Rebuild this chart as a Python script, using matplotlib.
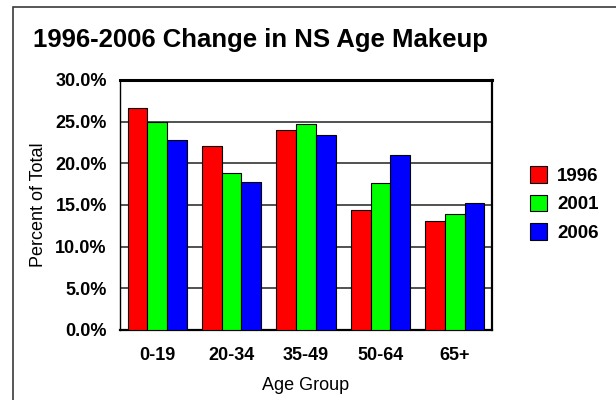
import numpy as np
import matplotlib
matplotlib.use('Agg')
import matplotlib.pyplot as plt
from matplotlib.patches import Rectangle
from matplotlib.ticker import FuncFormatter

# Data (percent of total population)
age_groups = ['0-19', '20-34', '35-49', '50-64', '65+']
years = ['1996', '2001', '2006']
pct_1996 = [26.6, 22.1, 24.0, 14.4, 13.1]
pct_2001 = [25.0, 18.9, 24.7, 17.6, 13.9]
pct_2006 = [22.8, 17.8, 23.4, 21.0, 15.2]
colors = ['#ff0000', '#00ff00', '#0000ff']

plt.rcParams['font.family'] = ['Liberation Sans', 'DejaVu Sans']

fig = plt.figure(figsize=(6.16, 4.0), dpi=100)
ax = fig.add_axes([120 / 616, 1 - 330 / 400, 372 / 616, 250 / 400])

# outer frame of the original image (only left and top edges visible)
fig.patches.append(Rectangle((13 / 616, -0.1), 1.2, 1.1 - 7 / 400, transform=fig.transFigure,
                             fill=False, edgecolor='#3a3a3a', linewidth=1.2))

x = np.arange(len(age_groups))
width = 0.265
series = [pct_1996, pct_2001, pct_2006]
for i, (vals, col, yr) in enumerate(zip(series, colors, years)):
    ax.bar(x + (i - 1) * width, vals, width, color=col, edgecolor='black',
           linewidth=0.8, label=yr, zorder=3)

ax.set_xlim(-0.5, len(age_groups) - 0.5)
ax.set_ylim(0, 30)
ax.set_yticks(np.arange(0, 31, 5))
ax.yaxis.set_major_formatter(FuncFormatter(lambda v, p: f'{v:.1f}%'))
ax.set_xticks(x)
ax.set_xticklabels(age_groups)
ax.grid(axis='y', color='#222222', linewidth=1.1, zorder=0)
ax.set_axisbelow(True)
ax.tick_params(axis='both', length=0, labelsize=13)
ax.tick_params(axis='y', pad=9.5)
ax.tick_params(axis='x', pad=12)
for lab in ax.get_xticklabels() + ax.get_yticklabels():
    lab.set_fontweight('bold')

ax.spines['top'].set_linewidth(2.2)
ax.spines['bottom'].set_linewidth(1.6)
ax.spines['right'].set_linewidth(1.6)
ax.spines['left'].set_linewidth(1.0)

ax.set_ylabel('Percent of Total', fontsize=13, va='center')
ax.yaxis.set_label_coords(-0.22, 0.5)
ax.set_xlabel('Age Group', fontsize=13, va='center')
ax.xaxis.set_label_coords(0.5, -0.222)

fig.text(33 / 616, 1 - 47 / 400, '1996-2006 Change in NS Age Makeup', fontsize=18.5,
         fontweight='bold', ha='left', va='baseline')

leg = ax.legend(loc='center left', bbox_to_anchor=(530 / 616, 1 - 204 / 400),
                bbox_transform=fig.transFigure, frameon=False, borderpad=0,
                borderaxespad=0, handlelength=0.9, handleheight=1.0,
                handletextpad=0.55, labelspacing=0.5,
                prop={'size': 13.5, 'weight': 'bold'})

fig.savefig('out.png', dpi=100)
